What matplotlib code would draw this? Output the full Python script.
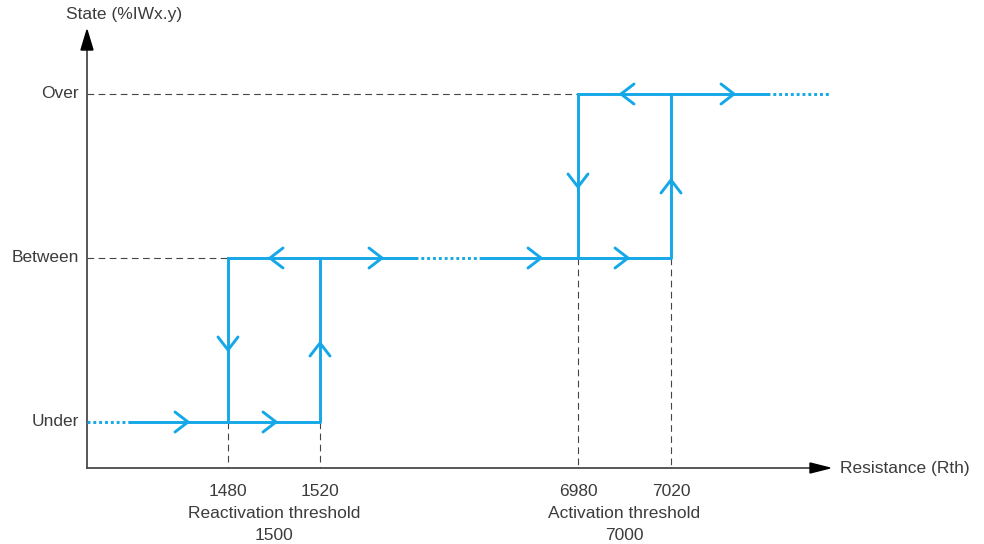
import matplotlib.pyplot as plt

plt.rcParams['font.family'] = ['Liberation Sans', 'DejaVu Sans']

# states on the vertical axis
states = ['Under', 'Between', 'Over']
# thresholds on the horizontal axis (ohm)
thresholds = [1480, 1520, 6980, 7020]
group_names = ['Reactivation threshold', 'Activation threshold']
group_values = [1500, 7000]

# schematic layout (figure is drawn in pixel units)
level_y = {'Under': 422, 'Between': 258, 'Over': 94}
thr_x = {1480: 228, 1520: 320, 6980: 578, 7020: 671}
x0, y0 = 87, 468
x_end, y_top = 830, 30

blue = '#14A8E8'
grey = '#4a4a4a'
txt = '#3c3c3c'
lw = 2.1
fs = 12.5

fig = plt.figure(figsize=(9.84, 5.44), dpi=100)
ax = fig.add_axes([0, 0, 1, 1])
ax.set_xlim(0, 984)
ax.set_ylim(544, 0)
ax.axis('off')


def chevron(x, y, d):
    s, h = 13, 10
    if d == 'right':
        xs, ys = [x - s, x, x - s], [y - h, y, y + h]
    elif d == 'left':
        xs, ys = [x + s, x, x + s], [y - h, y, y + h]
    elif d == 'down':
        xs, ys = [x - h, x, x + h], [y - s, y, y - s]
    else:
        xs, ys = [x - h, x, x + h], [y + s, y, y + s]
    ax.plot(xs, ys, color=blue, lw=lw, solid_capstyle='round', solid_joinstyle='miter', zorder=4)


# axes with arrowheads
ax.plot([x0, x0], [y0, y_top + 18], color=grey, lw=1.3, zorder=2)
ax.plot([x0, x_end - 18], [y0, y0], color=grey, lw=1.3, zorder=2)
ax.fill([x0 - 6, x0, x0 + 6], [y_top + 20, y_top, y_top + 20], color='black', zorder=3)
ax.fill([x_end - 20, x_end, x_end - 20], [y0 - 5, y0, y0 + 5], color='black', zorder=3)

ax.text(x0 + 37, 15, 'State (%IWx.y)', ha='center', va='center', fontsize=fs, color=txt)
ax.text(x_end + 10, y0, 'Resistance (Rth)', ha='left', va='center', fontsize=fs, color=txt)

# state labels
for s in states:
    ax.text(79, level_y[s], s, ha='right', va='center', fontsize=fs, color=txt)

# dashed guides
dash = dict(color='#444444', lw=0.8, ls=(0, (6, 4)), zorder=1)
ax.plot([x0, thr_x[6980]], [level_y['Over']] * 2, **dash)
ax.plot([x0, thr_x[1480]], [level_y['Between']] * 2, **dash)
for t in thresholds[:2]:
    ax.plot([thr_x[t]] * 2, [level_y['Under'], y0], **dash)
for t in thresholds[2:]:
    ax.plot([thr_x[t]] * 2, [level_y['Between'], y0], **dash)

# threshold labels
for t in thresholds:
    ax.text(thr_x[t], 491, str(t), ha='center', va='center', fontsize=fs, color=txt)
for i, (name, val) in enumerate(zip(group_names, group_values)):
    xc = (thr_x[thresholds[2 * i]] + thr_x[thresholds[2 * i + 1]]) / 2
    ax.text(xc, 514, name, ha='center', va='center', fontsize=fs, color=txt)
    ax.text(xc, 535, str(val), ha='center', va='center', fontsize=fs, color=txt)

# hysteresis path
yu, yb, yo = level_y['Under'], level_y['Between'], level_y['Over']
dot = dict(color=blue, lw=lw, ls=(0, (1.0, 1.0)), zorder=3)
sol = dict(color=blue, lw=lw, zorder=3)
ax.plot([x0, 131], [yu, yu], **dot)
ax.plot([131, thr_x[1520], thr_x[1520]], [yu, yu, yb], **sol)
ax.plot([thr_x[1480], thr_x[1480]], [yu, yb], **sol)
ax.plot([thr_x[1480], 415], [yb, yb], **sol)
ax.plot([415, 483], [yb, yb], **dot)
ax.plot([483, thr_x[7020], thr_x[7020]], [yb, yb, yo], **sol)
ax.plot([thr_x[6980], thr_x[6980]], [yb, yo], **sol)
ax.plot([thr_x[6980], 767], [yo, yo], **sol)
ax.plot([767, x_end], [yo, yo], **dot)

chevron(188, yu, 'right')
chevron(276, yu, 'right')
chevron(thr_x[1480], 350, 'down')
chevron(thr_x[1520], 343, 'up')
chevron(270, yb, 'left')
chevron(382, yb, 'right')
chevron(541, yb, 'right')
chevron(628, yb, 'right')
chevron(thr_x[6980], 187, 'down')
chevron(thr_x[7020], 180, 'up')
chevron(621, yo, 'left')
chevron(734, yo, 'right')

fig.savefig('out.png', dpi=100)
